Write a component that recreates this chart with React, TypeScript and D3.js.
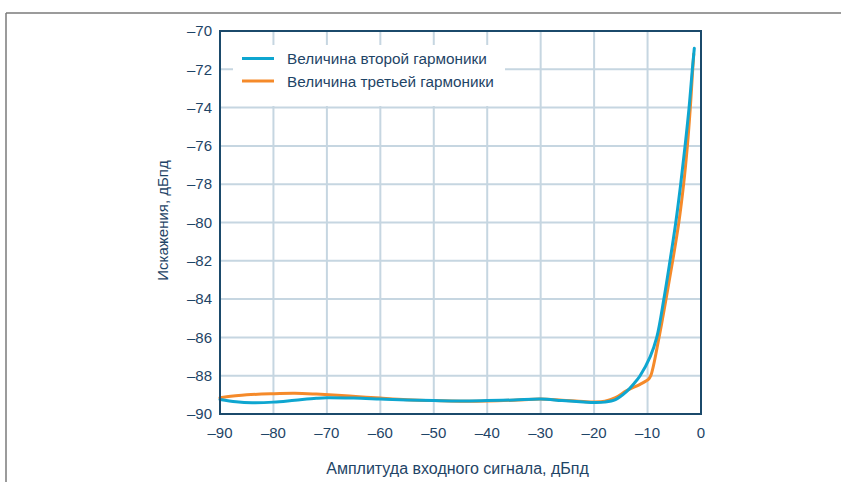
import React from "react";
import * as d3 from "d3";

// Input amplitude (dBFS) and distortion levels (dBFS)
const secondX = [-90, -87, -84, -80, -76, -72, -70, -65, -60, -55, -50, -45, -40, -35, -30, -26, -22, -20, -18, -16, -14, -12.5, -11.4, -9.5, -8.28, -6.95, -5.8, -4.72, -3.8, -2.98, -2.23, -1.62, -1.25];
const secondY = [-89.24, -89.36, -89.41, -89.38, -89.28, -89.18, -89.15, -89.17, -89.22, -89.27, -89.3, -89.32, -89.3, -89.27, -89.22, -89.3, -89.37, -89.4, -89.38, -89.25, -88.85, -88.4, -88.0, -87.0, -86.0, -84.0, -82.0, -80, -78, -76, -74, -72, -70.9];

const thirdX = [-90, -85, -80, -76, -72, -68, -64, -60, -55, -50, -45, -40, -35, -30, -26, -22, -20, -18, -16, -13.9, -11.4, -9.85, -9.4, -7.85, -6.54, -5.3, -4.15, -3.25, -2.55, -2.0, -1.55, -1.35];
const thirdY = [-89.15, -89.0, -88.94, -88.92, -88.96, -89.02, -89.1, -89.17, -89.25, -89.3, -89.33, -89.32, -89.28, -89.22, -89.28, -89.35, -89.37, -89.33, -89.15, -88.78, -88.45, -88.19, -88.0, -86.0, -84.0, -82.0, -80, -78, -76, -74, -72, -71.2];

const xTicks = [-90, -80, -70, -60, -50, -40, -30, -20, -10, 0];
const yTicks = [-70, -72, -74, -76, -78, -80, -82, -84, -86, -88, -90];

const seriesNames = ["Величина второй гармоники", "Величина третьей гармоники"];
const xTitle = "Амплитуда входного сигнала, дБпд";
const yTitle = "Искажения, дБпд";

const BLUE = "#0ea6d0";
const ORANGE = "#f58a2a";
const NAVY = "#1b4a6b";
const TEXT = "#1e4466";
const GRID = "#c6d6e1";
const FONT = "'Liberation Sans', Arial, sans-serif";

const fmt = (v: number) => (v < 0 ? "\u2013" + Math.abs(v) : String(v));

export default function App() {
  const W = 841;
  const H = 482;
  const left = 220, right = 701, top = 31, bottom = 414;

  const x = d3.scaleLinear().domain([-90, 0]).range([left, right]);
  const y = d3.scaleLinear().domain([-90, -70]).range([bottom, top]);

  const line = d3
    .line<[number, number]>()
    .x((d) => x(d[0]))
    .y((d) => y(d[1]))
    .curve(d3.curveCatmullRom.alpha(0.5));

  const secondPts = secondX.map((v, i) => [v, secondY[i]] as [number, number]);
  const thirdPts = thirdX.map((v, i) => [v, thirdY[i]] as [number, number]);

  const legend = { x0: 233, x1: 505, y0: 45, y1: 106 };

  return (
    <svg
      width={W}
      height={H}
      style={{ position: "absolute", left: 0, top: 0, background: "#fff" }}
      fontFamily={FONT}
    >
      {/* outer frame */}
      <line x1={6} y1={13} x2={W} y2={13} stroke="#7a7a7a" strokeWidth={1.5} />
      <line x1={6} y1={13} x2={6} y2={H} stroke="#7a7a7a" strokeWidth={1.5} />

      {/* grid */}
      {xTicks.slice(1, -1).map((t) => (
        <line key={"gx" + t} x1={x(t)} x2={x(t)} y1={top} y2={bottom} stroke={GRID} strokeWidth={2} />
      ))}
      {yTicks.slice(1, -1).map((t) => (
        <line key={"gy" + t} x1={left} x2={right} y1={y(t)} y2={y(t)} stroke={GRID} strokeWidth={2} />
      ))}

      {/* legend box */}
      <rect x={legend.x0} y={legend.y0} width={legend.x1 - legend.x0} height={legend.y1 - legend.y0} fill="#fff" />
      <line x1={242} x2={274} y1={58.5} y2={58.5} stroke={BLUE} strokeWidth={3} />
      <line x1={242} x2={274} y1={81} y2={81} stroke={ORANGE} strokeWidth={3} />
      <text x={287} y={64} fontSize={15.3} fill={TEXT}>{seriesNames[0]}</text>
      <text x={287} y={86.5} fontSize={15.3} fill={TEXT}>{seriesNames[1]}</text>

      {/* curves */}
      <path d={line(thirdPts) || ""} fill="none" stroke={ORANGE} strokeWidth={3} strokeLinejoin="round" strokeLinecap="round" />
      <path d={line(secondPts) || ""} fill="none" stroke={BLUE} strokeWidth={3} strokeLinejoin="round" strokeLinecap="round" />

      {/* plot border */}
      <rect x={left} y={top} width={right - left} height={bottom - top} fill="none" stroke={NAVY} strokeWidth={2} />

      {/* tick labels */}
      {yTicks.map((t) => (
        <text key={"ly" + t} x={212} y={y(t)} dy="0.35em" textAnchor="end" fontSize={15} fill={TEXT}>
          {fmt(t)}
        </text>
      ))}
      {xTicks.map((t) => (
        <text key={"lx" + t} x={x(t)} y={438} textAnchor="middle" fontSize={15} fill={TEXT}>
          {fmt(t)}
        </text>
      ))}

      {/* axis titles */}
      <text x={457.5} y={474} textAnchor="middle" fontSize={16} fill={TEXT}>
        {xTitle}
      </text>
      <text
        transform={`translate(168, 220.5) rotate(-90)`}
        textAnchor="middle"
        fontSize={15}
        fill={TEXT}
      >
        {yTitle}
      </text>
    </svg>
  );
}
